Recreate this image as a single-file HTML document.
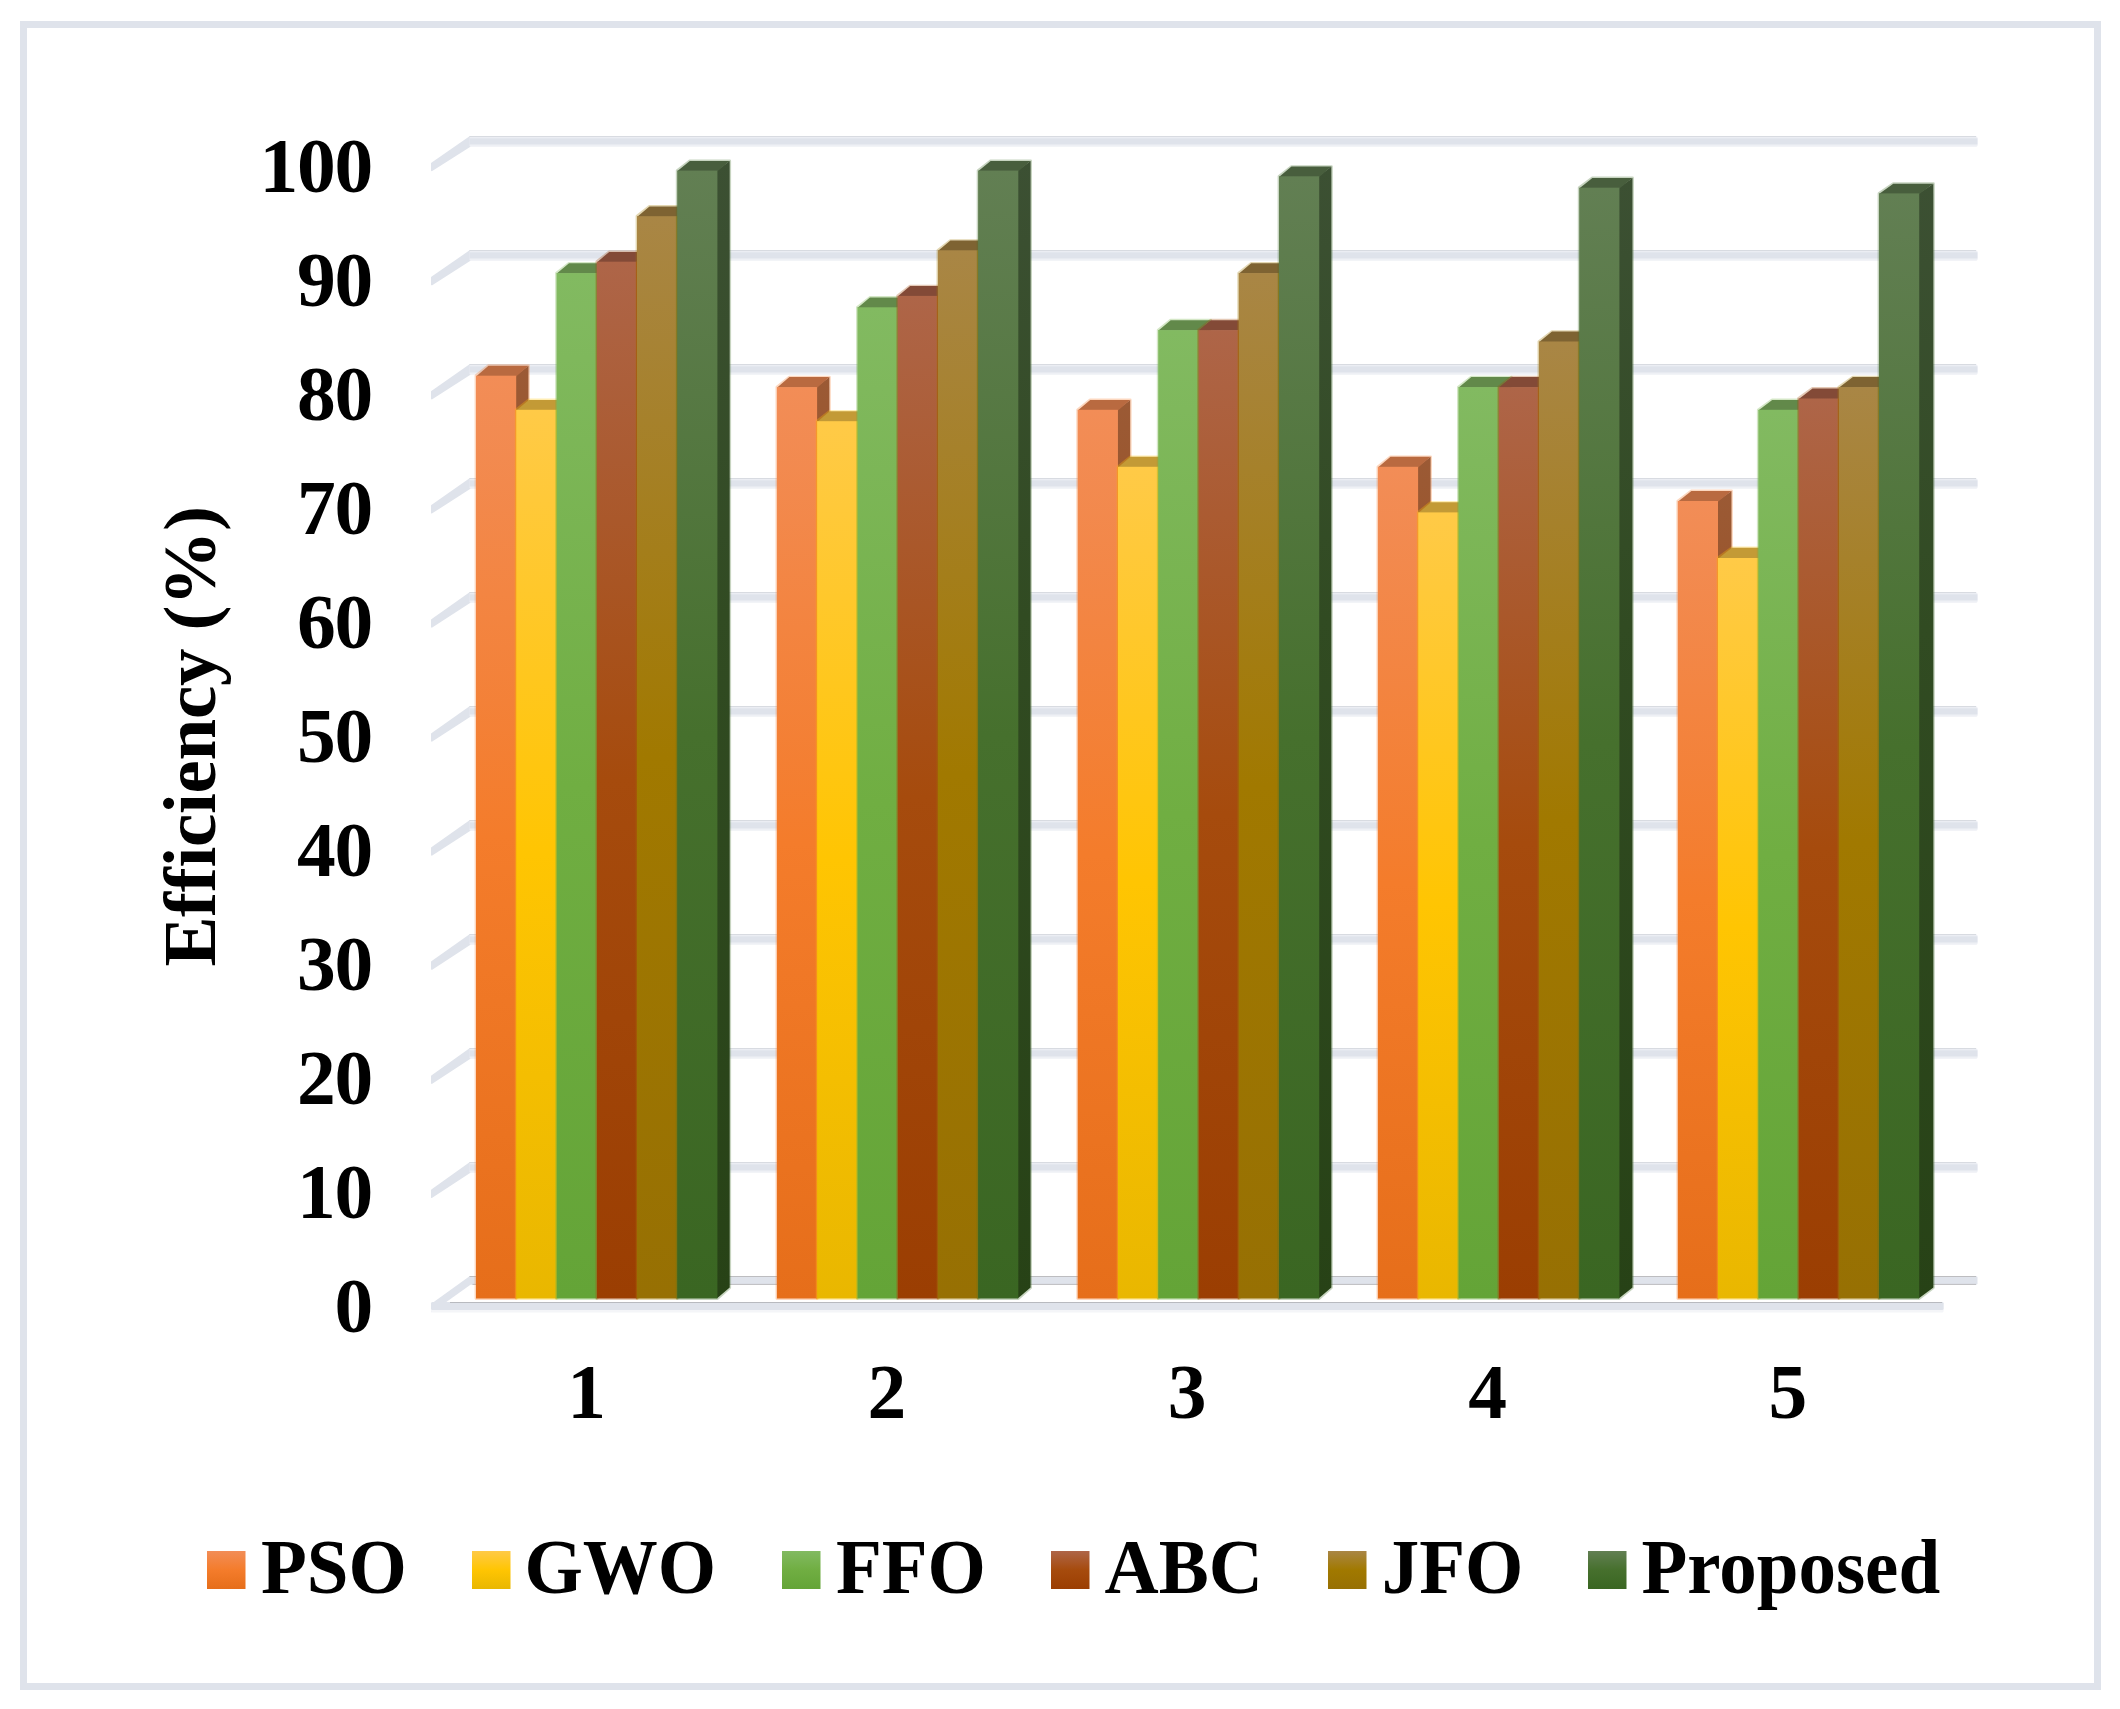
<!DOCTYPE html>
<html lang="en"><head><meta charset="utf-8"><title>Efficiency (%) comparison chart</title>
<style>
html,body{margin:0;padding:0;background:#fff;}
body{width:2120px;height:1709px;overflow:hidden;}
svg{display:block;}
text{font-family:'Liberation Serif', serif;font-weight:bold;font-size:75px;fill:#000;}
text.num{font-size:77.5px;letter-spacing:-1.25px;}
</style></head><body>
<svg width="2120" height="1709" viewBox="0 0 2120 1709">
<defs>
<linearGradient id="f0" x1="0" y1="0" x2="0" y2="1"><stop offset="0" stop-color="#F28D57"/><stop offset="0.5" stop-color="#F47C2B"/><stop offset="1" stop-color="#E66E1A"/></linearGradient>
<linearGradient id="s0" x1="0" y1="0" x2="0" y2="1"><stop offset="0" stop-color="#9B5A35"/><stop offset="0.4" stop-color="#9A4D1A"/><stop offset="1" stop-color="#93450E"/></linearGradient>
<linearGradient id="f1" x1="0" y1="0" x2="0" y2="1"><stop offset="0" stop-color="#FFCA47"/><stop offset="0.5" stop-color="#FFC502"/><stop offset="1" stop-color="#E9B700"/></linearGradient>
<linearGradient id="s1" x1="0" y1="0" x2="0" y2="1"><stop offset="0" stop-color="#A88230"/><stop offset="0.4" stop-color="#A07C06"/><stop offset="1" stop-color="#957400"/></linearGradient>
<linearGradient id="f2" x1="0" y1="0" x2="0" y2="1"><stop offset="0" stop-color="#82BA61"/><stop offset="0.5" stop-color="#70AE42"/><stop offset="1" stop-color="#64A437"/></linearGradient>
<linearGradient id="s2" x1="0" y1="0" x2="0" y2="1"><stop offset="0" stop-color="#547A3E"/><stop offset="0.4" stop-color="#49722B"/><stop offset="1" stop-color="#416B22"/></linearGradient>
<linearGradient id="f3" x1="0" y1="0" x2="0" y2="1"><stop offset="0" stop-color="#AE6548"/><stop offset="0.5" stop-color="#A64B0D"/><stop offset="1" stop-color="#9B3E02"/></linearGradient>
<linearGradient id="s3" x1="0" y1="0" x2="0" y2="1"><stop offset="0" stop-color="#70402E"/><stop offset="0.4" stop-color="#6A3007"/><stop offset="1" stop-color="#652801"/></linearGradient>
<linearGradient id="f4" x1="0" y1="0" x2="0" y2="1"><stop offset="0" stop-color="#A98645"/><stop offset="0.5" stop-color="#A17900"/><stop offset="1" stop-color="#977003"/></linearGradient>
<linearGradient id="s4" x1="0" y1="0" x2="0" y2="1"><stop offset="0" stop-color="#6E562B"/><stop offset="0.4" stop-color="#684E01"/><stop offset="1" stop-color="#624902"/></linearGradient>
<linearGradient id="f5" x1="0" y1="0" x2="0" y2="1"><stop offset="0" stop-color="#627F53"/><stop offset="0.5" stop-color="#46702D"/><stop offset="1" stop-color="#3A6622"/></linearGradient>
<linearGradient id="s5" x1="0" y1="0" x2="0" y2="1"><stop offset="0" stop-color="#3C5033"/><stop offset="0.4" stop-color="#314B22"/><stop offset="1" stop-color="#274216"/></linearGradient>
</defs>
<rect x="0" y="0" width="2120" height="1709" fill="#fff"/>
<rect x="23.5" y="24.5" width="2074" height="1662" fill="none" stroke="#DFE3EB" stroke-width="7"/>
<g id="grid">
<polygon points="470.0,1276.8 470.0,1284.1 431.8,1311.3 431.8,1304.3" fill="#DFE3EB" stroke="#DFE3EB" stroke-width="1.6" stroke-linejoin="round"/>
<rect x="469.5" y="1276.1" width="1508.0" height="8.7" rx="1.5" fill="#DFE3EB"/>
<rect x="469.5" y="1276.1" width="1506.5" height="0.9" fill="#B9B9BB"/>
<rect x="472.5" y="1283.9" width="1503.5" height="0.9" fill="#B9B9BB"/>
<polygon points="470.0,1163.0 470.0,1172.0 431.8,1197.2 431.8,1190.2" fill="#DFE3EB" stroke="#DFE3EB" stroke-width="1.6" stroke-linejoin="round"/>
<rect x="469.5" y="1162.2" width="1508.0" height="10.6" rx="1.5" fill="#EEF0F5"/><rect x="469.5" y="1164.3" width="1508.0" height="6.2" fill="#DFE3EB"/><rect x="469.5" y="1162.2" width="1506.5" height="0.9" fill="#D2D5DB"/>
<polygon points="470.0,1049.0 470.0,1058.0 431.8,1083.1 431.8,1076.1" fill="#DFE3EB" stroke="#DFE3EB" stroke-width="1.6" stroke-linejoin="round"/>
<rect x="469.5" y="1048.2" width="1508.0" height="10.6" rx="1.5" fill="#EEF0F5"/><rect x="469.5" y="1050.3" width="1508.0" height="6.2" fill="#DFE3EB"/><rect x="469.5" y="1048.2" width="1506.5" height="0.9" fill="#D2D5DB"/>
<polygon points="470.0,935.0 470.0,944.0 431.8,969.0 431.8,962.0" fill="#DFE3EB" stroke="#DFE3EB" stroke-width="1.6" stroke-linejoin="round"/>
<rect x="469.5" y="934.2" width="1508.0" height="10.6" rx="1.5" fill="#EEF0F5"/><rect x="469.5" y="936.3" width="1508.0" height="6.2" fill="#DFE3EB"/><rect x="469.5" y="934.2" width="1506.5" height="0.9" fill="#D2D5DB"/>
<polygon points="470.0,821.0 470.0,830.0 431.8,854.9 431.8,847.9" fill="#DFE3EB" stroke="#DFE3EB" stroke-width="1.6" stroke-linejoin="round"/>
<rect x="469.5" y="820.2" width="1508.0" height="10.6" rx="1.5" fill="#EEF0F5"/><rect x="469.5" y="822.3" width="1508.0" height="6.2" fill="#DFE3EB"/><rect x="469.5" y="820.2" width="1506.5" height="0.9" fill="#D2D5DB"/>
<polygon points="470.0,707.0 470.0,716.0 431.8,740.9 431.8,733.9" fill="#DFE3EB" stroke="#DFE3EB" stroke-width="1.6" stroke-linejoin="round"/>
<rect x="469.5" y="706.2" width="1508.0" height="10.6" rx="1.5" fill="#EEF0F5"/><rect x="469.5" y="708.3" width="1508.0" height="6.2" fill="#DFE3EB"/><rect x="469.5" y="706.2" width="1506.5" height="0.9" fill="#D2D5DB"/>
<polygon points="470.0,593.0 470.0,602.0 431.8,626.8 431.8,619.8" fill="#DFE3EB" stroke="#DFE3EB" stroke-width="1.6" stroke-linejoin="round"/>
<rect x="469.5" y="592.2" width="1508.0" height="10.6" rx="1.5" fill="#EEF0F5"/><rect x="469.5" y="594.3" width="1508.0" height="6.2" fill="#DFE3EB"/><rect x="469.5" y="592.2" width="1506.5" height="0.9" fill="#D2D5DB"/>
<polygon points="470.0,479.0 470.0,488.0 431.8,512.7 431.8,505.7" fill="#DFE3EB" stroke="#DFE3EB" stroke-width="1.6" stroke-linejoin="round"/>
<rect x="469.5" y="478.2" width="1508.0" height="10.6" rx="1.5" fill="#EEF0F5"/><rect x="469.5" y="480.3" width="1508.0" height="6.2" fill="#DFE3EB"/><rect x="469.5" y="478.2" width="1506.5" height="0.9" fill="#D2D5DB"/>
<polygon points="470.0,365.0 470.0,374.0 431.8,398.6 431.8,391.6" fill="#DFE3EB" stroke="#DFE3EB" stroke-width="1.6" stroke-linejoin="round"/>
<rect x="469.5" y="364.2" width="1508.0" height="10.6" rx="1.5" fill="#EEF0F5"/><rect x="469.5" y="366.3" width="1508.0" height="6.2" fill="#DFE3EB"/><rect x="469.5" y="364.2" width="1506.5" height="0.9" fill="#D2D5DB"/>
<polygon points="470.0,251.0 470.0,260.0 431.8,284.5 431.8,277.5" fill="#DFE3EB" stroke="#DFE3EB" stroke-width="1.6" stroke-linejoin="round"/>
<rect x="469.5" y="250.2" width="1508.0" height="10.6" rx="1.5" fill="#EEF0F5"/><rect x="469.5" y="252.3" width="1508.0" height="6.2" fill="#DFE3EB"/><rect x="469.5" y="250.2" width="1506.5" height="0.9" fill="#D2D5DB"/>
<polygon points="470.0,137.0 470.0,146.0 431.8,170.4 431.8,163.4" fill="#DFE3EB" stroke="#DFE3EB" stroke-width="1.6" stroke-linejoin="round"/>
<rect x="469.5" y="136.2" width="1508.0" height="10.6" rx="1.5" fill="#EEF0F5"/><rect x="469.5" y="138.3" width="1508.0" height="6.2" fill="#DFE3EB"/><rect x="469.5" y="136.2" width="1506.5" height="0.9" fill="#D2D5DB"/>
</g>
<g id="bars">
<polygon points="476.0,1298.5 476.0,375.7 488.5,365.7 528.5,365.7 528.5,1287.6 516.2,1298.5" fill="none" stroke="#F47C2B" stroke-opacity="0.3" stroke-width="2.8" stroke-linejoin="round"/>
<polygon points="515.5,375.7 528.5,365.7 528.5,1287.6 515.5,1298.5" fill="url(#s0)"/>
<polygon points="476.0,376.4 488.5,365.7 528.5,365.7 516.2,376.4" fill="#B96A40"/>
<rect x="476.0" y="375.7" width="40.2" height="922.8" fill="url(#f0)"/>
<rect x="515.6" y="409.8" width="1.2" height="888.7" fill="#F47C2B"/>
<polygon points="516.2,1298.5 516.2,409.8 528.8,399.9 568.7,399.9 568.7,1287.6 556.5,1298.5" fill="none" stroke="#FFC502" stroke-opacity="0.3" stroke-width="2.8" stroke-linejoin="round"/>
<polygon points="555.8,409.8 568.7,399.9 568.7,1287.6 555.8,1298.5" fill="url(#s1)"/>
<polygon points="516.2,410.5 528.8,399.9 568.7,399.9 556.5,410.5" fill="#C39A36"/>
<rect x="516.2" y="409.8" width="40.2" height="888.7" fill="url(#f1)"/>
<rect x="555.9" y="409.8" width="1.2" height="888.7" fill="#FFC502"/>
<polygon points="556.5,1298.5 556.5,273.1 569.0,263.3 609.0,263.3 609.0,1287.6 596.8,1298.5" fill="none" stroke="#70AE42" stroke-opacity="0.3" stroke-width="2.8" stroke-linejoin="round"/>
<polygon points="596.0,273.1 609.0,263.3 609.0,1287.6 596.0,1298.5" fill="url(#s2)"/>
<polygon points="556.5,273.8 569.0,263.3 609.0,263.3 596.8,273.8" fill="#62894A"/>
<rect x="556.5" y="273.1" width="40.2" height="1025.4" fill="url(#f2)"/>
<rect x="596.1" y="273.1" width="1.2" height="1025.4" fill="#70AE42"/>
<polygon points="596.8,1298.5 596.8,261.7 609.2,251.9 649.2,251.9 649.2,1287.6 637.0,1298.5" fill="none" stroke="#A64B0D" stroke-opacity="0.3" stroke-width="2.8" stroke-linejoin="round"/>
<polygon points="636.3,261.7 649.2,251.9 649.2,1287.6 636.3,1298.5" fill="url(#s3)"/>
<polygon points="596.8,262.4 609.2,251.9 649.2,251.9 637.0,262.4" fill="#834A37"/>
<rect x="596.8" y="261.7" width="40.2" height="1036.8" fill="url(#f3)"/>
<rect x="636.4" y="261.7" width="1.2" height="1036.8" fill="#A64B0D"/>
<polygon points="637.0,1298.5 637.0,216.2 649.5,206.4 689.5,206.4 689.5,1287.6 677.2,1298.5" fill="none" stroke="#A17900" stroke-opacity="0.3" stroke-width="2.8" stroke-linejoin="round"/>
<polygon points="676.5,216.2 689.5,206.4 689.5,1287.6 676.5,1298.5" fill="url(#s4)"/>
<polygon points="637.0,216.9 649.5,206.4 689.5,206.4 677.2,216.9" fill="#7E6332"/>
<rect x="637.0" y="216.2" width="40.2" height="1082.3" fill="url(#f4)"/>
<rect x="676.6" y="216.2" width="1.2" height="1082.3" fill="#A17900"/>
<polygon points="677.2,1298.5 677.2,170.6 689.8,160.9 729.7,160.9 729.7,1287.6 717.5,1298.5" fill="none" stroke="#46702D" stroke-opacity="0.3" stroke-width="2.8" stroke-linejoin="round"/>
<polygon points="716.8,170.6 729.7,160.9 729.7,1287.6 716.8,1298.5" fill="url(#s5)"/>
<polygon points="677.2,171.3 689.8,160.9 729.7,160.9 717.5,171.3" fill="#485E3D"/>
<rect x="677.2" y="170.6" width="40.2" height="1127.9" fill="url(#f5)"/>
<polygon points="776.9,1298.5 776.9,387.1 789.4,377.1 829.4,377.1 829.4,1287.6 817.1,1298.5" fill="none" stroke="#F47C2B" stroke-opacity="0.3" stroke-width="2.8" stroke-linejoin="round"/>
<polygon points="816.4,387.1 829.4,377.1 829.4,1287.6 816.4,1298.5" fill="url(#s0)"/>
<polygon points="776.9,387.8 789.4,377.1 829.4,377.1 817.1,387.8" fill="#B96A40"/>
<rect x="776.9" y="387.1" width="40.2" height="911.4" fill="url(#f0)"/>
<rect x="816.5" y="421.2" width="1.2" height="877.3" fill="#F47C2B"/>
<polygon points="817.1,1298.5 817.1,421.2 829.6,411.3 869.6,411.3 869.6,1287.6 857.4,1298.5" fill="none" stroke="#FFC502" stroke-opacity="0.3" stroke-width="2.8" stroke-linejoin="round"/>
<polygon points="856.7,421.2 869.6,411.3 869.6,1287.6 856.7,1298.5" fill="url(#s1)"/>
<polygon points="817.1,421.9 829.6,411.3 869.6,411.3 857.4,421.9" fill="#C39A36"/>
<rect x="817.1" y="421.2" width="40.2" height="877.3" fill="url(#f1)"/>
<rect x="856.8" y="421.2" width="1.2" height="877.3" fill="#FFC502"/>
<polygon points="857.4,1298.5 857.4,307.3 869.9,297.5 909.9,297.5 909.9,1287.6 897.6,1298.5" fill="none" stroke="#70AE42" stroke-opacity="0.3" stroke-width="2.8" stroke-linejoin="round"/>
<polygon points="896.9,307.3 909.9,297.5 909.9,1287.6 896.9,1298.5" fill="url(#s2)"/>
<polygon points="857.4,308.0 869.9,297.5 909.9,297.5 897.6,308.0" fill="#62894A"/>
<rect x="857.4" y="307.3" width="40.2" height="991.2" fill="url(#f2)"/>
<rect x="897.0" y="307.3" width="1.2" height="991.2" fill="#70AE42"/>
<polygon points="897.6,1298.5 897.6,295.9 910.1,286.1 950.1,286.1 950.1,1287.6 937.9,1298.5" fill="none" stroke="#A64B0D" stroke-opacity="0.3" stroke-width="2.8" stroke-linejoin="round"/>
<polygon points="937.2,295.9 950.1,286.1 950.1,1287.6 937.2,1298.5" fill="url(#s3)"/>
<polygon points="897.6,296.6 910.1,286.1 950.1,286.1 937.9,296.6" fill="#834A37"/>
<rect x="897.6" y="295.9" width="40.2" height="1002.6" fill="url(#f3)"/>
<rect x="937.3" y="295.9" width="1.2" height="1002.6" fill="#A64B0D"/>
<polygon points="937.9,1298.5 937.9,250.3 950.4,240.6 990.4,240.6 990.4,1287.6 978.1,1298.5" fill="none" stroke="#A17900" stroke-opacity="0.3" stroke-width="2.8" stroke-linejoin="round"/>
<polygon points="977.4,250.3 990.4,240.6 990.4,1287.6 977.4,1298.5" fill="url(#s4)"/>
<polygon points="937.9,251.0 950.4,240.6 990.4,240.6 978.1,251.0" fill="#7E6332"/>
<rect x="937.9" y="250.3" width="40.2" height="1048.2" fill="url(#f4)"/>
<rect x="977.5" y="250.3" width="1.2" height="1048.2" fill="#A17900"/>
<polygon points="978.1,1298.5 978.1,170.6 990.6,160.9 1030.6,160.9 1030.6,1287.6 1018.4,1298.5" fill="none" stroke="#46702D" stroke-opacity="0.3" stroke-width="2.8" stroke-linejoin="round"/>
<polygon points="1017.7,170.6 1030.6,160.9 1030.6,1287.6 1017.7,1298.5" fill="url(#s5)"/>
<polygon points="978.1,171.3 990.6,160.9 1030.6,160.9 1018.4,171.3" fill="#485E3D"/>
<rect x="978.1" y="170.6" width="40.2" height="1127.9" fill="url(#f5)"/>
<polygon points="1077.7,1298.5 1077.7,409.8 1090.2,399.9 1130.2,399.9 1130.2,1287.6 1118.0,1298.5" fill="none" stroke="#F47C2B" stroke-opacity="0.3" stroke-width="2.8" stroke-linejoin="round"/>
<polygon points="1117.2,409.8 1130.2,399.9 1130.2,1287.6 1117.2,1298.5" fill="url(#s0)"/>
<polygon points="1077.7,410.5 1090.2,399.9 1130.2,399.9 1118.0,410.5" fill="#B96A40"/>
<rect x="1077.7" y="409.8" width="40.2" height="888.7" fill="url(#f0)"/>
<rect x="1117.4" y="466.8" width="1.2" height="831.7" fill="#F47C2B"/>
<polygon points="1118.0,1298.5 1118.0,466.8 1130.5,456.8 1170.4,456.8 1170.4,1287.6 1158.2,1298.5" fill="none" stroke="#FFC502" stroke-opacity="0.3" stroke-width="2.8" stroke-linejoin="round"/>
<polygon points="1157.5,466.8 1170.4,456.8 1170.4,1287.6 1157.5,1298.5" fill="url(#s1)"/>
<polygon points="1118.0,467.5 1130.5,456.8 1170.4,456.8 1158.2,467.5" fill="#C39A36"/>
<rect x="1118.0" y="466.8" width="40.2" height="831.7" fill="url(#f1)"/>
<rect x="1157.6" y="466.8" width="1.2" height="831.7" fill="#FFC502"/>
<polygon points="1158.2,1298.5 1158.2,330.1 1170.7,320.2 1210.7,320.2 1210.7,1287.6 1198.5,1298.5" fill="none" stroke="#70AE42" stroke-opacity="0.3" stroke-width="2.8" stroke-linejoin="round"/>
<polygon points="1197.8,330.1 1210.7,320.2 1210.7,1287.6 1197.8,1298.5" fill="url(#s2)"/>
<polygon points="1158.2,330.8 1170.7,320.2 1210.7,320.2 1198.5,330.8" fill="#62894A"/>
<rect x="1158.2" y="330.1" width="40.2" height="968.4" fill="url(#f2)"/>
<rect x="1197.9" y="330.1" width="1.2" height="968.4" fill="#70AE42"/>
<polygon points="1198.5,1298.5 1198.5,330.1 1211.0,320.2 1250.9,320.2 1250.9,1287.6 1238.7,1298.5" fill="none" stroke="#A64B0D" stroke-opacity="0.3" stroke-width="2.8" stroke-linejoin="round"/>
<polygon points="1238.0,330.1 1250.9,320.2 1250.9,1287.6 1238.0,1298.5" fill="url(#s3)"/>
<polygon points="1198.5,330.8 1211.0,320.2 1250.9,320.2 1238.7,330.8" fill="#834A37"/>
<rect x="1198.5" y="330.1" width="40.2" height="968.4" fill="url(#f3)"/>
<rect x="1238.1" y="330.1" width="1.2" height="968.4" fill="#A64B0D"/>
<polygon points="1238.7,1298.5 1238.7,273.1 1251.2,263.3 1291.2,263.3 1291.2,1287.6 1279.0,1298.5" fill="none" stroke="#A17900" stroke-opacity="0.3" stroke-width="2.8" stroke-linejoin="round"/>
<polygon points="1278.2,273.1 1291.2,263.3 1291.2,1287.6 1278.2,1298.5" fill="url(#s4)"/>
<polygon points="1238.7,273.8 1251.2,263.3 1291.2,263.3 1279.0,273.8" fill="#7E6332"/>
<rect x="1238.7" y="273.1" width="40.2" height="1025.4" fill="url(#f4)"/>
<rect x="1278.4" y="273.1" width="1.2" height="1025.4" fill="#A17900"/>
<polygon points="1279.0,1298.5 1279.0,176.3 1291.5,166.6 1331.4,166.6 1331.4,1287.6 1319.2,1298.5" fill="none" stroke="#46702D" stroke-opacity="0.3" stroke-width="2.8" stroke-linejoin="round"/>
<polygon points="1318.5,176.3 1331.4,166.6 1331.4,1287.6 1318.5,1298.5" fill="url(#s5)"/>
<polygon points="1279.0,177.0 1291.5,166.6 1331.4,166.6 1319.2,177.0" fill="#485E3D"/>
<rect x="1279.0" y="176.3" width="40.2" height="1122.2" fill="url(#f5)"/>
<polygon points="1377.9,1298.5 1377.9,466.8 1390.5,456.8 1430.6,456.8 1430.6,1287.6 1418.2,1298.5" fill="none" stroke="#F47C2B" stroke-opacity="0.3" stroke-width="2.8" stroke-linejoin="round"/>
<polygon points="1417.5,466.8 1430.6,456.8 1430.6,1287.6 1417.5,1298.5" fill="url(#s0)"/>
<polygon points="1377.9,467.5 1390.5,456.8 1430.6,456.8 1418.2,467.5" fill="#B96A40"/>
<rect x="1377.9" y="466.8" width="40.2" height="831.7" fill="url(#f0)"/>
<rect x="1417.6" y="512.4" width="1.2" height="786.1" fill="#F47C2B"/>
<polygon points="1418.2,1298.5 1418.2,512.4 1430.9,502.3 1471.0,502.3 1471.0,1287.6 1458.4,1298.5" fill="none" stroke="#FFC502" stroke-opacity="0.3" stroke-width="2.8" stroke-linejoin="round"/>
<polygon points="1457.7,512.4 1471.0,502.3 1471.0,1287.6 1457.7,1298.5" fill="url(#s1)"/>
<polygon points="1418.2,513.1 1430.9,502.3 1471.0,502.3 1458.4,513.1" fill="#C39A36"/>
<rect x="1418.2" y="512.4" width="40.2" height="786.1" fill="url(#f1)"/>
<rect x="1457.8" y="512.4" width="1.2" height="786.1" fill="#FFC502"/>
<polygon points="1458.4,1298.5 1458.4,387.1 1471.3,377.1 1511.3,377.1 1511.3,1287.6 1498.7,1298.5" fill="none" stroke="#70AE42" stroke-opacity="0.3" stroke-width="2.8" stroke-linejoin="round"/>
<polygon points="1498.0,387.1 1511.3,377.1 1511.3,1287.6 1498.0,1298.5" fill="url(#s2)"/>
<polygon points="1458.4,387.8 1471.3,377.1 1511.3,377.1 1498.7,387.8" fill="#62894A"/>
<rect x="1458.4" y="387.1" width="40.2" height="911.4" fill="url(#f2)"/>
<rect x="1498.1" y="387.1" width="1.2" height="911.4" fill="#70AE42"/>
<polygon points="1498.7,1298.5 1498.7,387.1 1511.6,377.1 1551.7,377.1 1551.7,1287.6 1538.9,1298.5" fill="none" stroke="#A64B0D" stroke-opacity="0.3" stroke-width="2.8" stroke-linejoin="round"/>
<polygon points="1538.2,387.1 1551.7,377.1 1551.7,1287.6 1538.2,1298.5" fill="url(#s3)"/>
<polygon points="1498.7,387.8 1511.6,377.1 1551.7,377.1 1538.9,387.8" fill="#834A37"/>
<rect x="1498.7" y="387.1" width="40.2" height="911.4" fill="url(#f3)"/>
<rect x="1538.3" y="387.1" width="1.2" height="911.4" fill="#A64B0D"/>
<polygon points="1538.9,1298.5 1538.9,341.5 1552.0,331.6 1592.1,331.6 1592.1,1287.6 1579.2,1298.5" fill="none" stroke="#A17900" stroke-opacity="0.3" stroke-width="2.8" stroke-linejoin="round"/>
<polygon points="1578.5,341.5 1592.1,331.6 1592.1,1287.6 1578.5,1298.5" fill="url(#s4)"/>
<polygon points="1538.9,342.2 1552.0,331.6 1592.1,331.6 1579.2,342.2" fill="#7E6332"/>
<rect x="1538.9" y="341.5" width="40.2" height="957.0" fill="url(#f4)"/>
<rect x="1578.6" y="341.5" width="1.2" height="957.0" fill="#A17900"/>
<polygon points="1579.2,1298.5 1579.2,187.7 1592.4,178.0 1632.5,178.0 1632.5,1287.6 1619.4,1298.5" fill="none" stroke="#46702D" stroke-opacity="0.3" stroke-width="2.8" stroke-linejoin="round"/>
<polygon points="1618.7,187.7 1632.5,178.0 1632.5,1287.6 1618.7,1298.5" fill="url(#s5)"/>
<polygon points="1579.2,188.4 1592.4,178.0 1632.5,178.0 1619.4,188.4" fill="#485E3D"/>
<rect x="1579.2" y="187.7" width="40.2" height="1110.8" fill="url(#f5)"/>
<polygon points="1677.8,1298.5 1677.8,501.0 1691.4,490.9 1731.5,490.9 1731.5,1287.6 1718.0,1298.5" fill="none" stroke="#F47C2B" stroke-opacity="0.3" stroke-width="2.8" stroke-linejoin="round"/>
<polygon points="1717.3,501.0 1731.5,490.9 1731.5,1287.6 1717.3,1298.5" fill="url(#s0)"/>
<polygon points="1677.8,501.7 1691.4,490.9 1731.5,490.9 1718.0,501.7" fill="#B96A40"/>
<rect x="1677.8" y="501.0" width="40.2" height="797.5" fill="url(#f0)"/>
<rect x="1717.5" y="558.0" width="1.2" height="740.5" fill="#F47C2B"/>
<polygon points="1718.0,1298.5 1718.0,558.0 1731.8,547.8 1771.9,547.8 1771.9,1287.6 1758.3,1298.5" fill="none" stroke="#FFC502" stroke-opacity="0.3" stroke-width="2.8" stroke-linejoin="round"/>
<polygon points="1757.6,558.0 1771.9,547.8 1771.9,1287.6 1757.6,1298.5" fill="url(#s1)"/>
<polygon points="1718.0,558.7 1731.8,547.8 1771.9,547.8 1758.3,558.7" fill="#C39A36"/>
<rect x="1718.0" y="558.0" width="40.2" height="740.5" fill="url(#f1)"/>
<rect x="1757.7" y="558.0" width="1.2" height="740.5" fill="#FFC502"/>
<polygon points="1758.3,1298.5 1758.3,409.8 1772.2,399.9 1812.2,399.9 1812.2,1287.6 1798.5,1298.5" fill="none" stroke="#70AE42" stroke-opacity="0.3" stroke-width="2.8" stroke-linejoin="round"/>
<polygon points="1797.8,409.8 1812.2,399.9 1812.2,1287.6 1797.8,1298.5" fill="url(#s2)"/>
<polygon points="1758.3,410.5 1772.2,399.9 1812.2,399.9 1798.5,410.5" fill="#62894A"/>
<rect x="1758.3" y="409.8" width="40.2" height="888.7" fill="url(#f2)"/>
<rect x="1798.0" y="409.8" width="1.2" height="888.7" fill="#70AE42"/>
<polygon points="1798.5,1298.5 1798.5,398.5 1812.5,388.5 1852.6,388.5 1852.6,1287.6 1838.8,1298.5" fill="none" stroke="#A64B0D" stroke-opacity="0.3" stroke-width="2.8" stroke-linejoin="round"/>
<polygon points="1838.1,398.5 1852.6,388.5 1852.6,1287.6 1838.1,1298.5" fill="url(#s3)"/>
<polygon points="1798.5,399.2 1812.5,388.5 1852.6,388.5 1838.8,399.2" fill="#834A37"/>
<rect x="1798.5" y="398.5" width="40.2" height="900.0" fill="url(#f3)"/>
<rect x="1838.2" y="398.5" width="1.2" height="900.0" fill="#A64B0D"/>
<polygon points="1838.8,1298.5 1838.8,387.1 1852.9,377.1 1893.0,377.1 1893.0,1287.6 1879.0,1298.5" fill="none" stroke="#A17900" stroke-opacity="0.3" stroke-width="2.8" stroke-linejoin="round"/>
<polygon points="1878.3,387.1 1893.0,377.1 1893.0,1287.6 1878.3,1298.5" fill="url(#s4)"/>
<polygon points="1838.8,387.8 1852.9,377.1 1893.0,377.1 1879.0,387.8" fill="#7E6332"/>
<rect x="1838.8" y="387.1" width="40.2" height="911.4" fill="url(#f4)"/>
<rect x="1878.5" y="387.1" width="1.2" height="911.4" fill="#A17900"/>
<polygon points="1879.0,1298.5 1879.0,193.4 1893.3,183.7 1933.4,183.7 1933.4,1287.6 1919.3,1298.5" fill="none" stroke="#46702D" stroke-opacity="0.3" stroke-width="2.8" stroke-linejoin="round"/>
<polygon points="1918.6,193.4 1933.4,183.7 1933.4,1287.6 1918.6,1298.5" fill="url(#s5)"/>
<polygon points="1879.0,194.1 1893.3,183.7 1933.4,183.7 1919.3,194.1" fill="#485E3D"/>
<rect x="1879.0" y="193.4" width="40.2" height="1105.1" fill="url(#f5)"/>
</g>
<g id="floor">
<rect x="431" y="1302.0" width="1512.6" height="10.6" rx="1.5" fill="#F4F5F8"/>
<rect x="431" y="1302.0" width="1512.6" height="8.0" rx="1.5" fill="#DFE3EB"/>
<rect x="450" y="1302.0" width="1492.1" height="0.9" fill="#B4B6BA"/>
</g>
<g id="labels">
<text class="num" x="372" y="1332.2" text-anchor="end">0</text>
<text class="num" x="372" y="1218.2" text-anchor="end">10</text>
<text class="num" x="372" y="1104.2" text-anchor="end">20</text>
<text class="num" x="372" y="990.2" text-anchor="end">30</text>
<text class="num" x="372" y="876.2" text-anchor="end">40</text>
<text class="num" x="372" y="762.2" text-anchor="end">50</text>
<text class="num" x="372" y="648.2" text-anchor="end">60</text>
<text class="num" x="372" y="534.2" text-anchor="end">70</text>
<text class="num" x="372" y="420.2" text-anchor="end">80</text>
<text class="num" x="372" y="306.2" text-anchor="end">90</text>
<text class="num" x="372" y="192.2" text-anchor="end">100</text>
<text class="num" x="585.9" y="1418" text-anchor="middle">1</text>
<text class="num" x="886.2" y="1418" text-anchor="middle">2</text>
<text class="num" x="1186.6" y="1418" text-anchor="middle">3</text>
<text class="num" x="1487.0" y="1418" text-anchor="middle">4</text>
<text class="num" x="1787.3" y="1418" text-anchor="middle">5</text>
<text transform="translate(214.6,736.5) rotate(-90)" text-anchor="middle" letter-spacing="-0.3">Efficiency (%)</text>
</g>
<g id="legend">
<rect x="207" y="1551" width="38.5" height="38" fill="url(#f0)"/>
<text transform="translate(261.0,1592.6) scale(1,1.03)">PSO</text>
<rect x="472" y="1551" width="38.5" height="38" fill="url(#f1)"/>
<text transform="translate(524.5,1592.6) scale(1,1.03)">GWO</text>
<rect x="782" y="1551" width="38.5" height="38" fill="url(#f2)"/>
<text transform="translate(836.0,1592.6) scale(1,1.03)">FFO</text>
<rect x="1051" y="1551" width="38.5" height="38" fill="url(#f3)"/>
<text transform="translate(1104.5,1592.6) scale(1,1.03)">ABC</text>
<rect x="1328" y="1551" width="38.5" height="38" fill="url(#f4)"/>
<text transform="translate(1381.8,1592.6) scale(1,1.03)">JFO</text>
<rect x="1588" y="1551" width="38.5" height="38" fill="url(#f5)"/>
<text transform="translate(1641.5,1592.6) scale(1,1.03)">Proposed</text>
</g>
</svg></body></html>
